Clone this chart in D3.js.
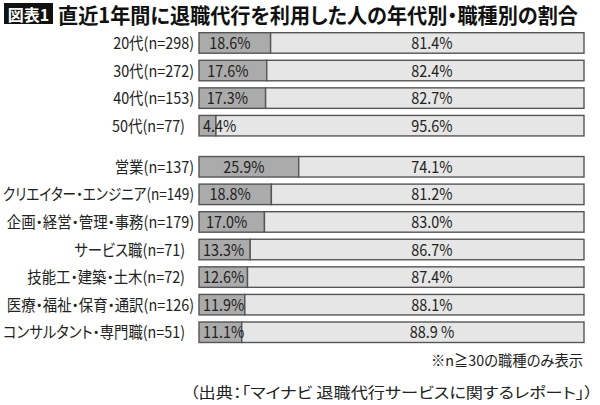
<!DOCTYPE html>
<html lang="ja">
<head>
<meta charset="UTF-8">
<title>退職代行を利用した人の年代別・職種別の割合</title>
<script src="https://d3js.org/d3.v7.min.js"></script>
<style>
  body { margin: 0; background: #fff; }
  text {
    font-family: "Noto Sans CJK JP", sans-serif;
    font-feature-settings: "palt";
    fill: #222;
  }
</style>
</head>
<body>
<svg width="600" height="405"></svg>
<script>
// data
const categories = [
  "20代(n=298)", "30代(n=272)", "40代(n=153)", "50代(n=77)",
  "営業(n=137)", "クリエイター・エンジニア(n=149)", "企画・経営・管理・事務(n=179)",
  "サービス職(n=71)", "技能工・建築・土木(n=72)", "医療・福祉・保育・通訳(n=126)",
  "コンサルタント・専門職(n=51)"
];
const groups = [1, 1, 1, 1, 2, 2, 2, 2, 2, 2, 2];
const usedValues = [18.6, 17.6, 17.3, 4.4, 25.9, 18.8, 17.0, 13.3, 12.6, 11.9, 11.1];
const notUsedValues = [81.4, 82.4, 82.7, 95.6, 74.1, 81.2, 83.0, 86.7, 87.4, 88.1, 88.9];
const usedLabels = ["18.6%", "17.6%", "17.3%", "4.4%", "25.9%", "18.8%", "17.0%", "13.3%", "12.6%", "11.9%", "11.1%"];
const notUsedLabels = ["81.4%", "82.4%", "82.7%", "95.6%", "74.1%", "81.2%", "83.0%", "86.7%", "87.4%", "88.1%", "88.9 %"];
const sampleSizes = [298, 272, 153, 77, 137, 149, 179, 71, 72, 126, 51];

const titleText = "直近1年間に退職代行を利用した人の年代別・職種別の割合";
const badgeText = "図表1";
const noteText = "※n≧30の職種のみ表示";
const sourceText = "（出典：「マイナビ 退職代行サービスに関するレポート」）";

const svg = d3.select("svg");

// scales
const groupGap = 0.49;
const rowIndex = categories.map((c, i) => i + (groups[i] === 2 ? groupGap : 0));
const x = d3.scaleLinear().domain([0, 100]).range([199, 584]);
const y = d3.scaleLinear().domain([0, d3.max(rowIndex)]).range([32.7, 322]);
const barH = 20.5;
const rightLabelPos = 60.5;
const squeeze = 0.9;   // the original type is a condensed gothic
const textY = barH / 2 + 6;

// header
svg.append("rect")
  .attr("x", 4).attr("y", 3)
  .attr("width", 49).attr("height", 21)
  .attr("fill", "#111");
svg.append("text")
  .attr("x", 28.5).attr("y", 20.5)
  .attr("text-anchor", "middle")
  .style("font-size", "16px")
  .style("font-weight", "bold")
  .style("fill", "#fff")
  .text(badgeText);
svg.append("text")
  .attr("x", 58).attr("y", 22.5)
  .attr("textLength", 520)
  .attr("lengthAdjust", "spacingAndGlyphs")
  .style("font-size", "21px")
  .style("font-weight", "bold")
  .style("fill", "#111")
  .text(titleText);

const rows = svg.append("g").selectAll("g")
  .data(categories)
  .join("g")
  .attr("transform", (d, i) => `translate(0,${y(rowIndex[i])})`);

// bar segments
rows.append("rect")
  .attr("x", x(0))
  .attr("width", (d, i) => x(usedValues[i]) - x(0))
  .attr("height", barH)
  .attr("fill", "#ababab")
  .attr("stroke", "#555")
  .attr("stroke-width", 1.4);
rows.append("rect")
  .attr("x", (d, i) => x(usedValues[i]))
  .attr("width", (d, i) => x(usedValues[i] + notUsedValues[i]) - x(usedValues[i]))
  .attr("height", barH)
  .attr("fill", "#e6e6e6")
  .attr("stroke", "#555")
  .attr("stroke-width", 1.4);

// category labels (right aligned, squeezed to fit the left margin)
rows.append("text")
  .attr("text-anchor", "end")
  .style("font-size", "16px")
  .text(d => d)
  .each(function(d, i) {
    const right = x(0) - 5 - (sampleSizes[i] < 100 ? 9 : 0);
    const room = right - 3;
    const w = this.getComputedTextLength() * squeeze;
    if (w > room) {
      d3.select(this)
        .attr("textLength", room / squeeze)
        .attr("lengthAdjust", "spacingAndGlyphs");
    }
    d3.select(this).attr("transform", `translate(${right},${textY}) scale(${squeeze},1)`);
  });

// value labels
rows.append("text")
  .style("font-size", "16px")
  .text((d, i) => usedLabels[i])
  .attr("transform", function(d, i) {
    const w = this.getComputedTextLength() * squeeze;
    const mid = (x(0) + x(usedValues[i])) / 2;
    const left = Math.max(mid - 5 - w / 2, x(0) + 4);
    return `translate(${left},${textY}) scale(${squeeze},1)`;
  });
rows.append("text")
  .attr("text-anchor", "middle")
  .style("font-size", "16px")
  .attr("transform", `translate(${x(rightLabelPos)},${textY}) scale(${squeeze},1)`)
  .text((d, i) => notUsedLabels[i]);

// notes
svg.append("text")
  .attr("x", 431).attr("y", 366)
  .attr("textLength", 152)
  .attr("lengthAdjust", "spacingAndGlyphs")
  .style("font-size", "14.5px")
  .text(noteText);
svg.append("text")
  .attr("x", 190).attr("y", 398)
  .attr("textLength", 403)
  .attr("lengthAdjust", "spacingAndGlyphs")
  .style("font-size", "15px")
  .text(sourceText);
</script>
</body>
</html>
